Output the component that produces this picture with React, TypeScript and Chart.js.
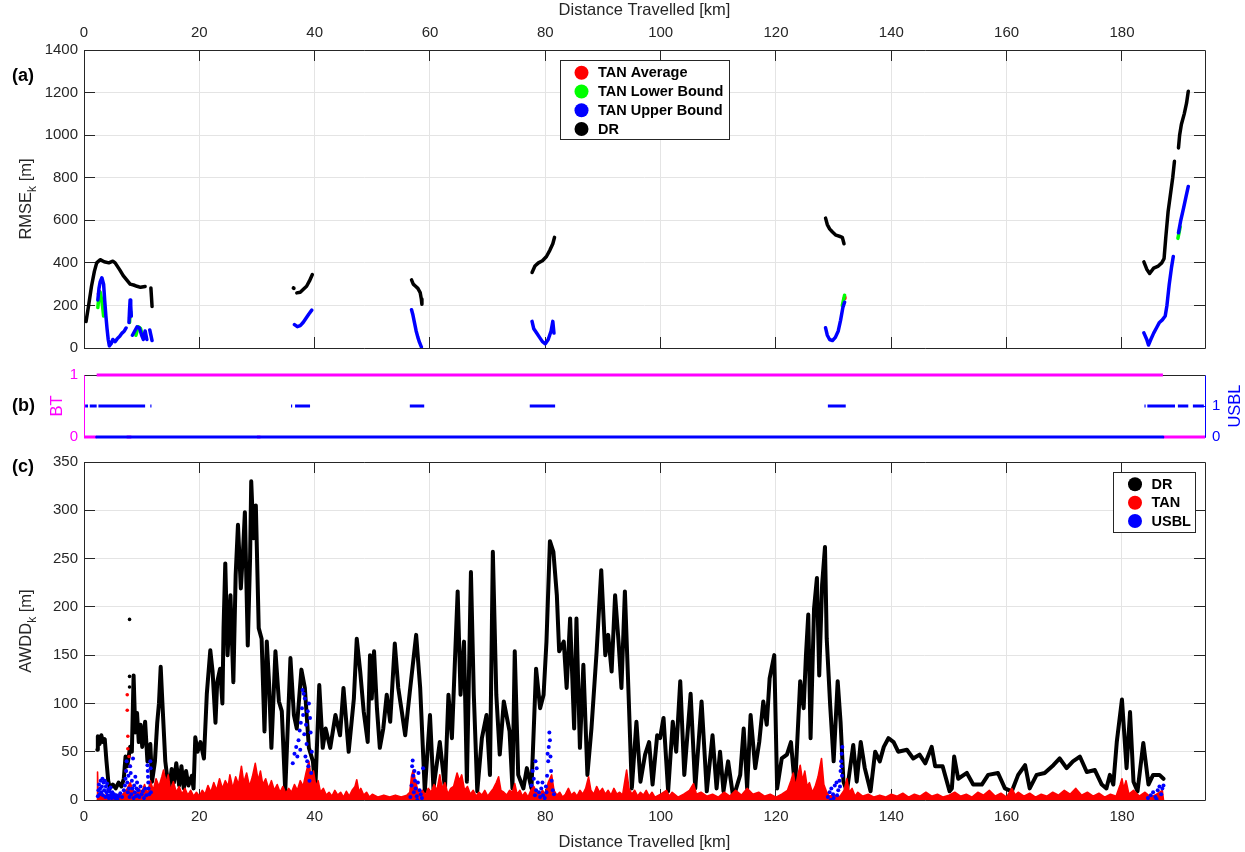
import React, { useEffect, useRef } from 'react';
import { Chart, registerables } from 'chart.js';
Chart.register(...registerables);

type Pt = [number, number] | null;

const FONT = '"Liberation Sans", Arial, Helvetica, sans-serif';
const INK = '#262626';
const GRID = '#e4e4e4';
const RED = '#ff0000';
const GREEN = '#00ff00';
const BLUE = '#0000ff';
const BLACK = '#000000';
const MAGENTA = '#ff00ff';
const W = 1245;
const H = 852;
const X_MIN = 0;
const X_MAX = 194.4;

// ---------- Panel (a): RMSE_k ----------
const dr_a: Pt[] = [
  [0.35, 124], [0.8, 200], [1.3, 290], [1.8, 360], [2.2, 400], [2.8, 415], [3.5, 405], [4.3, 400], [5.0, 408], [5.4, 400],
  [6.2, 367], [6.8, 340], [7.4, 320], [8.0, 300], [8.6, 296], [9.2, 290], [9.8, 285], [10.6, 289], null,
  [11.6, 282], [11.7, 240], [11.8, 195], null,
  [36.3, 282], [36.4, 280], null,
  [36.9, 259], [37.5, 262], [38.0, 275], [38.6, 290], [39.1, 315], [39.6, 345], null,
  [56.8, 320], [57.1, 300], [57.5, 290], [57.9, 280], [58.3, 260], [58.5, 230], [58.6, 205], null,
  [77.7, 355], [78.2, 385], [78.8, 400], [79.5, 410], [80.2, 430], [80.8, 460], [81.3, 490], [81.6, 520], null,
  [128.6, 610], [128.9, 580], [129.3, 560], [129.8, 545], [130.4, 530], [131.0, 525], [131.5, 520], [131.8, 490], null,
  [183.8, 405], [184.3, 370], [184.8, 350], [185.5, 375], [186.3, 385], [186.9, 400], [187.3, 420], [187.6, 520],
  [188.0, 640], [188.4, 720], [188.8, 800], [189.1, 877], null,
  [189.8, 940], [190.0, 1000], [190.3, 1050], [190.8, 1100], [191.2, 1150], [191.5, 1206],
];
const tanUpper_a: Pt[] = [
  [2.4, 226], [2.6, 280], [2.8, 310], [3.1, 330], [3.4, 300], [3.6, 220], [3.8, 150], [4.0, 90], [4.2, 40], [4.4, 10],
  [4.7, 20], [5.0, 40], [5.4, 30], [5.8, 45], [6.2, 55], [6.6, 70], [7.0, 80], [7.3, 94], null,
  [7.8, 120], [7.9, 180], [8.0, 226], [8.1, 200], [8.2, 150], null,
  [8.4, 60], [8.8, 80], [9.2, 100], [9.6, 95], [10.0, 60], [10.3, 40], [10.6, 80], [10.9, 40], null,
  [11.4, 85], [11.6, 60], [11.8, 35], null,
  [36.5, 110], [37.0, 100], [37.5, 105], [38.0, 120], [38.5, 140], [39.0, 160], [39.5, 178], null,
  [56.8, 180], [57.0, 160], [57.3, 120], [57.6, 80], [57.9, 50], [58.2, 25], [58.5, 5], null,
  [77.7, 125], [78.0, 90], [78.5, 70], [79.0, 50], [79.5, 30], [80.0, 20], [80.5, 40], [81.0, 80], [81.3, 125], [81.5, 70], null,
  [128.6, 95], [128.9, 60], [129.3, 40], [129.8, 35], [130.3, 50], [130.8, 80], [131.2, 130], [131.6, 190], [131.9, 215], null,
  [183.8, 71], [184.3, 40], [184.6, 14], [185.0, 40], [185.5, 70], [186.0, 95], [186.5, 120], [187.0, 132], [187.5, 150],
  [187.8, 200], [188.2, 300], [188.6, 380], [188.9, 430], null,
  [189.8, 541], [190.2, 600], [190.7, 660], [191.1, 710], [191.5, 759],
];
const tanLower_a: Pt[] = [
  [2.4, 190], [2.6, 250], [2.8, 262], [3.0, 235], [3.2, 200], [3.4, 150], null,
  [7.9, 120], [8.0, 170], [8.1, 150], null,
  [9.0, 60], [9.4, 100], [9.8, 92], [10.2, 55], null,
  [131.5, 200], [131.9, 248], null,
  [189.7, 515], [190.1, 570],
];
const tanAvg_a: Pt[] = [
  [2.5, 255], [2.7, 265], null,
  [7.9, 140], [8.05, 160], null,
  [131.8, 232], [131.95, 240],
];

// ---------- Panel (b): BT / USBL availability ----------
const bt_one: Pt[] = [[2.2, 1], [187.1, 1]];
const bt_zero: Pt[] = [[0, 0], [2.2, 0], null, [7.4, 0], [8.2, 0], null, [30.0, 0], [30.6, 0], null, [187.1, 0], [194.4, 0]];
const usbl_zero: Pt[] = [[2.2, 0], [187.1, 0]];
const usbl_one: Pt[] = [
  [0.2, 1], [0.7, 1], null, [1.0, 1], [2.2, 1], null, [2.5, 1], [10.6, 1], null, [11.5, 1], [11.7, 1], null,
  [35.9, 1], [36.1, 1], null, [36.6, 1], [39.2, 1], null, [56.5, 1], [59.0, 1], null, [77.3, 1], [81.7, 1], null,
  [129.0, 1], [132.1, 1], null, [183.9, 1], [184.1, 1], null, [184.4, 1], [189.2, 1], null, [189.7, 1], [191.5, 1], null,
  [192.3, 1], [194.2, 1],
];

// ---------- Panel (c): AWDD_k ----------
const dr_c: Pt[] = [
  [2.3, 52], [2.4, 66], [2.7, 58], [3.0, 67], [3.3, 60], [3.6, 63], [3.9, 40], [4.2, 20], [4.5, 12], [5.0, 16], [5.5, 12],
  [6.0, 18], [6.5, 14], [6.9, 22], [7.2, 45], [7.5, 35], [8.0, 55], [8.3, 50], [8.6, 129], [8.9, 70], [9.2, 90], [9.5, 60],
  [9.8, 78], [10.1, 55], [10.6, 81], [11.0, 40], [11.5, 58], [11.8, 19], [12.3, 40], [12.7, 80], [13.0, 100], [13.3, 138],
  [13.6, 100], [14.1, 40], [14.4, 25], [14.8, 12], [15.2, 32], [15.6, 18], [16.0, 38], [16.5, 15], [16.9, 35], [17.3, 12],
  [17.7, 30], [18.1, 15], [18.7, 25], [19.0, 12], [19.3, 65], [19.7, 50], [20.2, 60], [20.8, 43], [21.3, 110], [21.9, 155],
  [22.3, 133], [22.8, 80], [23.1, 122], [23.6, 136], [24.0, 100], [24.2, 178], [24.5, 245], [24.9, 150], [25.4, 212],
  [25.9, 122], [26.3, 233], [26.7, 285], [27.2, 219], [27.6, 260], [27.9, 298], [28.4, 160], [28.8, 250], [29.0, 330],
  [29.4, 271], [29.8, 305], [30.3, 178], [30.8, 167], [31.3, 71], [31.7, 164], [32.1, 120], [32.5, 54], [33.2, 154],
  [33.8, 102], [34.3, 92], [34.9, 9], [35.8, 147], [36.4, 88], [36.9, 74], [37.7, 135], [38.3, 116], [39.0, 54], [39.7, 40],
  [40.1, 9], [40.8, 119], [41.4, 54], [41.9, 74], [42.7, 54], [43.6, 88], [44.4, 67], [45.0, 116], [45.9, 50], [46.8, 105],
  [47.3, 167], [47.9, 133], [48.5, 92], [49.2, 60], [49.6, 150], [49.9, 105], [50.3, 154], [50.8, 95], [51.3, 54],
  [51.9, 74], [52.5, 109], [53.1, 81], [53.9, 162], [54.5, 116], [55.1, 92], [55.7, 67], [56.5, 112], [57.6, 171],
  [58.3, 116], [59.1, 9], [60.0, 88], [60.6, 12], [61.7, 60], [62.6, 12], [63.2, 109], [63.8, 64], [64.8, 216], [65.3, 109],
  [65.9, 164], [66.4, 19], [67.1, 236], [67.6, 109], [68.2, 9], [69.0, 64], [69.8, 88], [70.4, 26], [70.9, 257], [71.5, 109],
  [72.1, 47], [72.8, 102], [73.8, 71], [74.3, 12], [74.7, 154], [75.3, 26], [76.2, 12], [76.8, 33], [77.6, 12], [78.4, 136],
  [79.1, 95], [79.7, 109], [80.2, 164], [80.8, 268], [81.4, 257], [82.0, 212], [82.4, 154], [83.2, 164], [83.7, 116],
  [84.3, 188], [85.0, 74], [85.4, 188], [86.0, 54], [86.6, 140], [87.3, 26], [88.0, 74], [88.9, 154], [89.7, 238],
  [90.4, 150], [90.9, 171], [91.5, 133], [92.1, 212], [92.7, 164], [93.2, 116], [93.8, 216], [94.4, 116], [95.0, 12],
  [95.8, 81], [96.5, 19], [97.3, 47], [98.0, 60], [98.6, 16], [99.4, 67], [99.9, 64], [100.5, 85], [101.3, 9], [102.1, 81],
  [102.7, 50], [103.4, 123], [104.1, 26], [105.2, 110], [106.0, 12], [107.1, 102], [108.0, 9], [109.0, 67], [109.7, 12],
  [110.3, 50], [110.9, 9], [111.7, 40], [112.6, 2], [113.8, 26], [114.4, 74], [115.0, 12], [115.6, 88], [116.4, 33],
  [117.1, 60], [117.8, 102], [118.4, 78], [118.9, 126], [119.7, 150], [120.2, 12], [121.0, 43], [121.9, 47], [122.6, 60],
  [123.3, 12], [124.2, 123], [124.8, 95], [125.2, 150], [125.6, 192], [126.0, 64], [126.6, 198], [127.1, 230], [127.5, 129],
  [128.0, 223], [128.5, 262], [128.8, 167], [129.4, 98], [130.0, 40], [130.7, 123], [131.2, 81], [131.7, 19], [132.3, 9],
  [133.4, 57], [134.0, 19], [134.7, 60], [135.4, 33], [136.4, 9], [137.2, 50], [138.0, 40], [138.7, 55], [139.5, 64],
  [140.4, 60], [141.2, 50], [142.7, 52], [143.8, 43], [144.9, 47], [145.9, 38], [147.0, 55], [147.6, 35], [148.9, 35],
  [150.1, 9], [150.5, 12], [150.9, 45], [151.6, 22], [153.1, 28], [154.2, 16], [155.7, 16], [156.8, 26], [158.5, 28],
  [159.7, 12], [160.9, 9], [162.0, 26], [163.2, 36], [164.0, 12], [165.2, 26], [166.6, 28], [168.1, 36], [169.2, 43],
  [170.4, 33], [171.5, 40], [172.7, 45], [173.9, 29], [175.3, 31], [176.5, 16], [177.3, 12], [177.9, 26], [178.5, 16],
  [179.1, 60], [180.0, 104], [180.8, 33], [181.4, 91], [182.0, 19], [182.7, 9], [183.7, 59], [184.6, 16], [185.4, 26],
  [186.5, 26], [187.2, 22],
];
const drOut_c: Pt[] = [[7.9, 187], [7.9, 128], [7.9, 117]];
const tan_c: Pt[] = [
  [2.3, 0], [2.35, 29], [2.45, 5], [3, 8], [3.5, 4], [4, 6], [4.5, 3], [5, 5], [5.5, 3], [6, 6], [6.5, 4], [7, 8], [7.5, 12],
  [8, 18], [8.5, 10], [9, 6], [9.5, 12], [10, 8], [10.5, 16], [11, 6], [11.5, 20], [12, 10], [12.5, 22], [13, 14], [13.5, 24],
  [13.8, 31], [14.2, 18], [14.6, 26], [15, 10], [15.5, 19], [16, 8], [16.5, 14], [17, 6], [17.5, 12], [18, 5], [18.5, 10],
  [19, 4], [19.5, 8], [20, 4], [20.5, 10], [21, 6], [21.5, 15], [22, 8], [22.5, 18], [23, 10], [23.5, 22], [24, 12],
  [24.5, 20], [25, 14], [25.3, 26], [25.8, 12], [26.3, 24], [26.8, 16], [27.3, 35], [27.7, 18], [28.2, 28], [28.7, 14],
  [29.2, 24], [29.7, 38], [30.2, 20], [30.6, 30], [31, 16], [31.5, 22], [32, 12], [32.5, 20], [33, 10], [33.5, 16], [34, 8],
  [34.5, 14], [35, 7], [35.5, 12], [36, 8], [36.5, 16], [37, 10], [37.5, 20], [38, 14], [38.5, 28], [39, 40], [39.4, 22],
  [39.8, 30], [40.2, 14], [40.6, 20], [41, 8], [41.5, 12], [42, 5], [42.5, 8], [43, 4], [43.5, 10], [44, 5], [44.5, 8],
  [45, 3], [45.5, 9], [46, 4], [46.5, 10], [47, 14], [47.3, 21], [47.7, 8], [48, 12], [48.5, 5], [49, 8], [49.5, 3], [50, 6],
  [51, 3], [52, 5], [53, 3], [54, 5], [55, 3], [56, 5], [56.5, 8], [56.8, 25], [57.1, 31], [57.4, 22], [57.8, 12], [58.2, 6],
  [58.7, 10], [59.2, 5], [59.7, 12], [60.2, 8], [60.7, 16], [61.2, 10], [61.7, 26], [62.1, 12], [62.6, 18], [63.1, 6],
  [63.6, 12], [64.1, 14], [64.7, 28], [65.1, 20], [65.5, 26], [66, 10], [66.5, 14], [67, 6], [67.5, 10], [68, 4], [68.5, 8],
  [69, 5], [69.5, 10], [70, 4], [70.5, 8], [71, 12], [71.5, 18], [71.9, 24], [72.3, 10], [72.8, 8], [73.3, 5], [73.8, 10],
  [74.3, 8], [74.7, 17], [75.1, 6], [75.6, 10], [76, 4], [76.5, 8], [77, 3], [77.5, 10], [78, 14], [78.5, 8], [79, 5],
  [79.5, 10], [80, 6], [80.5, 18], [81.1, 26], [81.5, 10], [82, 5], [82.5, 8], [83, 3], [83.5, 6], [84, 12], [84.5, 5],
  [85, 8], [85.5, 4], [86, 10], [86.5, 6], [87, 12], [87.5, 24], [87.9, 10], [88.4, 6], [88.9, 14], [89.4, 8], [89.9, 12],
  [90.4, 6], [90.9, 10], [91.4, 5], [91.9, 12], [92.4, 6], [92.9, 8], [93.4, 5], [93.8, 20], [94.1, 31], [94.5, 12], [95, 6],
  [95.5, 10], [96, 4], [96.5, 8], [97, 5], [97.5, 10], [98, 4], [98.5, 8], [99, 3], [100, 6], [101, 10], [101.5, 4], [102, 8],
  [103, 3], [104, 6], [105, 10], [105.7, 17], [106.2, 6], [107, 8], [108, 4], [109, 6], [110, 3], [111, 8], [112, 4],
  [113, 10], [114, 5], [115, 12], [116, 6], [117, 8], [118, 4], [119, 6], [120, 3], [121, 6], [122, 10], [122.6, 20],
  [123, 28], [123.4, 14], [123.8, 26], [124.2, 36], [124.6, 20], [125, 30], [125.4, 14], [125.8, 18], [126.3, 8], [126.8, 14],
  [127.3, 24], [127.9, 43], [128.3, 16], [128.8, 8], [129.2, 4], [130, 5], [131, 3], [131.8, 10], [132.3, 22], [132.7, 8],
  [133.2, 12], [133.7, 4], [134.2, 8], [135, 4], [136, 6], [137, 3], [138, 5], [139, 3], [140, 6], [141, 4], [142, 7],
  [143, 3], [144, 6], [145, 4], [146, 8], [147, 4], [148, 6], [149, 3], [150, 5], [151, 8], [152, 4], [153, 6], [154, 3],
  [155, 8], [156, 5], [157, 10], [158, 4], [159, 7], [160, 3], [160.9, 12], [161.5, 5], [162, 8], [163, 4], [164, 7], [165, 3],
  [166, 6], [167, 4], [168, 8], [169, 5], [170, 10], [171, 6], [172, 12], [173, 5], [174, 8], [175, 4], [176, 7], [177, 3],
  [178, 6], [179, 4], [179.7, 16], [180, 22], [180.3, 12], [180.7, 20], [181.2, 6], [182, 10], [183, 4], [184, 8], [185, 3],
  [186, 6], [187, 10], [187.2, 0],
];
const tanOut_c: Pt[] = [[7.5, 109], [7.5, 93], [7.6, 66], [7.6, 53], [7.8, 45], [8.0, 35], [7.3, 30]];
const usbl_c: Pt[] = [
  [2.4, 4], [2.5, 10], [2.6, 16], [2.7, 6], [2.8, 12], [2.9, 20], [3.0, 8], [3.1, 14], [3.2, 22], [3.3, 5], [3.4, 18], [3.5, 10],
  [3.6, 20], [3.7, 3], [3.8, 14], [3.9, 8], [4.0, 17], [4.1, 5], [4.2, 11], [4.3, 2], [4.4, 9], [4.5, 4], [4.6, 13], [4.7, 6],
  [4.8, 2], [4.9, 8], [5.0, 3], [5.2, 6], [5.4, 2], [5.6, 5], [5.8, 1], [6.0, 4], [6.3, 7], [6.6, 3], [6.9, 10], [7.1, 15],
  [7.2, 22], [7.3, 30], [7.4, 40], [7.5, 18], [7.6, 8], [7.7, 25], [7.8, 12], [7.9, 3], [8.0, 35], [8.1, 28], [8.2, 6],
  [8.3, 20], [8.4, 12], [8.5, 43], [8.6, 2], [8.7, 15], [8.8, 8], [8.9, 24], [9.0, 4], [9.1, 12], [9.2, 18], [9.3, 5],
  [9.4, 10], [9.6, 3], [9.8, 14], [10.0, 6], [10.2, 9], [10.4, 2], [10.6, 12], [10.8, 5], [11.0, 36], [11.05, 30], [11.1, 24],
  [11.15, 18], [11.2, 12], [11.3, 6], [11.5, 40], [11.55, 33], [11.6, 8],
  [36.2, 38], [36.5, 48], [36.8, 55], [37.0, 45], [37.2, 62], [37.4, 72], [37.5, 52], [37.6, 80], [37.8, 95], [37.9, 114],
  [38.0, 88], [38.1, 110], [38.2, 68], [38.3, 105], [38.4, 45], [38.5, 78], [38.6, 58], [38.7, 40], [38.8, 92], [38.9, 35],
  [39.0, 100], [39.1, 20], [39.2, 85], [39.3, 70], [39.4, 28], [39.5, 50],
  [56.6, 3], [56.8, 15], [56.9, 35], [57.0, 41], [57.1, 25], [57.2, 8], [57.3, 30], [57.4, 20], [57.5, 12], [57.7, 4], [57.8, 0],
  [57.9, 18], [58.0, 28], [58.2, 10], [58.4, 6], [58.6, 2], [58.8, 33],
  [77.6, 15], [77.8, 30], [78.0, 22], [78.2, 5], [78.3, 40], [78.4, 10], [78.5, 33], [78.7, 18], [78.9, 8], [79.1, 3], [79.3, 12],
  [79.5, 18], [79.6, 5], [79.9, 2], [80.1, 14], [80.2, 8], [80.3, 25], [80.4, 48], [80.5, 40], [80.6, 55], [80.7, 70], [80.8, 62],
  [80.9, 45], [81.0, 30], [81.1, 20], [81.3, 10], [81.5, 6],
  [129.0, 3], [129.3, 8], [129.5, 0], [129.6, 12], [129.9, 6], [130.0, 2], [130.2, 15], [130.5, 18], [130.6, 5], [130.8, 10],
  [131.0, 20], [131.1, 14], [131.2, 30], [131.3, 40], [131.35, 35], [131.4, 48], [131.45, 25], [131.5, 55],
  [184.5, 2], [185.0, 5], [185.4, 8], [185.8, 3], [186.0, 1], [186.2, 10], [186.5, 14], [186.8, 6], [187.0, 12], [187.2, 15],
];

// ---------- helpers ----------
function toXY(arr: Pt[]) {
  const out: { x: number; y: number | null }[] = [];
  let lastX = 0;
  for (const p of arr) {
    if (p) {
      out.push({ x: p[0], y: p[1] });
      lastX = p[0];
    } else out.push({ x: lastX, y: null });
  }
  return out;
}

const lineDs = (label: string, data: Pt[], color: string, width: number, order: number, extra: any = {}) => ({
  type: 'line',
  label,
  data: toXY(data),
  borderColor: color,
  backgroundColor: color,
  borderWidth: width,
  pointRadius: 0,
  tension: 0,
  spanGaps: false,
  borderJoinStyle: 'round',
  borderCapStyle: 'round',
  order,
  ...extra,
});

const pointDs = (label: string, data: Pt[], color: string, r: number, order: number) => ({
  type: 'scatter',
  label,
  data: toXY(data),
  borderColor: color,
  backgroundColor: color,
  pointRadius: r,
  pointBorderWidth: 0,
  showLine: false,
  order,
});

const numCb = (v: any) => String(v);

const xScale = (position: string, showLabels: boolean, showTitle: boolean, height: number, display = true) => ({
  type: 'linear',
  position,
  display,
  min: X_MIN,
  max: X_MAX,
  grid: { color: GRID, drawTicks: false, lineWidth: 1 },
  border: { display: false },
  ticks: {
    stepSize: 20,
    includeBounds: false,
    autoSkip: false,
    maxRotation: 0,
    display: showLabels,
    color: INK,
    font: { family: FONT, size: 15 },
    padding: 8,
    callback: numCb,
  },
  title: {
    display: showTitle,
    text: 'Distance Travelled [km]',
    color: INK,
    font: { family: FONT, size: 16.5 },
    padding: { top: 1, bottom: 0 },
  },
  afterFit: (s: any) => {
    s.height = height;
  },
});

const yScale = (position: string, min: number, max: number, step: number, width: number, color: string, grid: boolean, cb: any = numCb) => ({
  type: 'linear',
  position,
  min,
  max,
  grid: { display: grid, color: GRID, drawTicks: false, lineWidth: 1 },
  border: { display: false },
  ticks: {
    stepSize: step,
    autoSkip: false,
    color,
    font: { family: FONT, size: 15 },
    padding: position === 'left' ? 6 : 7,
    callback: cb,
  },
  afterFit: (s: any) => {
    s.width = width;
  },
});

type Side = 'top' | 'bottom' | 'left' | 'right';
interface FrameCfg {
  edges: { side: Side; color: string }[];
  ticks: { scale: string; side: Side; color: string }[];
  legend?: { box: [number, number, number, number]; markerX: number; textX: number; rows: number[]; items: [string, string][] };
  texts?: (ctx: CanvasRenderingContext2D) => void;
}

function drawVTitle(ctx: CanvasRenderingContext2D, cx: number, cy: number, main: string, sub: string, rest: string, size: number, color: string) {
  ctx.save();
  ctx.translate(cx, cy);
  ctx.rotate(-Math.PI / 2);
  ctx.fillStyle = color;
  ctx.textBaseline = 'alphabetic';
  ctx.textAlign = 'left';
  const big = `${size}px ${FONT}`;
  const small = `${Math.round(size * 0.72)}px ${FONT}`;
  ctx.font = big;
  const w1 = ctx.measureText(main).width;
  const w3 = ctx.measureText(rest).width;
  ctx.font = small;
  const w2 = sub ? ctx.measureText(sub).width : 0;
  let x = -(w1 + w2 + w3) / 2;
  const base = size * 0.36;
  ctx.font = big;
  ctx.fillText(main, x, base);
  x += w1;
  if (sub) {
    ctx.font = small;
    ctx.fillText(sub, x, base + size * 0.28);
    x += w2;
  }
  ctx.font = big;
  ctx.fillText(rest, x, base);
  ctx.restore();
}

function drawPanelLabel(ctx: CanvasRenderingContext2D, text: string, x: number, y: number) {
  ctx.save();
  ctx.font = `bold 18px ${FONT}`;
  ctx.fillStyle = '#000';
  ctx.textAlign = 'left';
  ctx.textBaseline = 'middle';
  ctx.fillText(text, x, y);
  ctx.restore();
}

function makeFrame(cfg: FrameCfg) {
  return {
    id: 'matlabFrame',
    beforeDatasetsDraw(chart: any) {
      const { ctx, chartArea: a } = chart;
      const TL = 11;
      ctx.save();
      ctx.lineWidth = 1;
      for (const t of cfg.ticks) {
        const sc = chart.scales[t.scale];
        ctx.strokeStyle = t.color;
        ctx.beginPath();
        for (const tk of sc.ticks) {
          const p = Math.floor(sc.getPixelForValue(tk.value)) + 0.5;
          if (t.side === 'top') {
            ctx.moveTo(p, a.top);
            ctx.lineTo(p, a.top + TL);
          } else if (t.side === 'bottom') {
            ctx.moveTo(p, a.bottom);
            ctx.lineTo(p, a.bottom - TL);
          } else if (t.side === 'left') {
            ctx.moveTo(a.left, p);
            ctx.lineTo(a.left + TL, p);
          } else {
            ctx.moveTo(a.right, p);
            ctx.lineTo(a.right - TL, p);
          }
        }
        ctx.stroke();
      }
      const L = Math.floor(a.left) + 0.5;
      const R = Math.floor(a.right) + 0.5;
      const T = Math.floor(a.top) + 0.5;
      const B = Math.floor(a.bottom) + 0.5;
      for (const e of cfg.edges) {
        ctx.strokeStyle = e.color;
        ctx.beginPath();
        if (e.side === 'top') {
          ctx.moveTo(L, T);
          ctx.lineTo(R, T);
        } else if (e.side === 'bottom') {
          ctx.moveTo(L, B);
          ctx.lineTo(R, B);
        } else if (e.side === 'left') {
          ctx.moveTo(L, T);
          ctx.lineTo(L, B);
        } else {
          ctx.moveTo(R, T);
          ctx.lineTo(R, B);
        }
        ctx.stroke();
      }
      ctx.restore();
    },
    afterDraw(chart: any) {
      const ctx: CanvasRenderingContext2D = chart.ctx;
      if (cfg.legend) {
        const lg = cfg.legend;
        const [x0, y0, x1, y1] = lg.box;
        ctx.save();
        ctx.fillStyle = '#ffffff';
        ctx.fillRect(x0, y0, x1 - x0, y1 - y0);
        ctx.strokeStyle = INK;
        ctx.lineWidth = 1;
        ctx.strokeRect(Math.floor(x0) + 0.5, Math.floor(y0) + 0.5, Math.round(x1 - x0), Math.round(y1 - y0));
        ctx.font = `bold 14.5px ${FONT}`;
        ctx.textAlign = 'left';
        ctx.textBaseline = 'middle';
        lg.items.forEach(([label, color], i) => {
          const y = lg.rows[i];
          ctx.fillStyle = color;
          ctx.beginPath();
          ctx.arc(lg.markerX, y, 7, 0, Math.PI * 2);
          ctx.fill();
          ctx.fillStyle = '#000';
          ctx.fillText(label, lg.textX, y + 0.5);
        });
        ctx.restore();
      }
      if (cfg.texts) cfg.texts(ctx);
    },
  };
}

const baseOptions = (padding: any, scales: any) => ({
  responsive: false,
  maintainAspectRatio: false,
  animation: false,
  events: [],
  layout: { padding },
  plugins: { legend: { display: false }, tooltip: { enabled: false } },
  scales,
});

function buildA(canvas: HTMLCanvasElement) {
  return new Chart(canvas, {
    type: 'line',
    data: {
      datasets: [
        lineDs('TAN Upper Bound', tanUpper_a, BLUE, 3.5, 0),
        lineDs('TAN Lower Bound', tanLower_a, GREEN, 3.5, 1),
        lineDs('TAN Average', tanAvg_a, RED, 3.5, 2),
        lineDs('DR', dr_a, BLACK, 3.5, 3),
      ] as any,
    },
    options: baseOptions(
      { top: 0, left: 0, right: 40, bottom: 504 },
      {
        x: xScale('top', true, true, 50),
        y: yScale('left', 0, 1400, 200, 84, INK, true),
      }
    ) as any,
    plugins: [
      makeFrame({
        edges: [
          { side: 'top', color: INK },
          { side: 'bottom', color: INK },
          { side: 'left', color: INK },
          { side: 'right', color: INK },
        ],
        ticks: [
          { scale: 'x', side: 'top', color: INK },
          { scale: 'x', side: 'bottom', color: INK },
          { scale: 'y', side: 'left', color: INK },
          { scale: 'y', side: 'right', color: INK },
        ],
        legend: {
          box: [560, 60, 729, 139],
          markerX: 581.5,
          textX: 598,
          rows: [72.7, 91.5, 110.2, 129],
          items: [
            ['TAN Average', RED],
            ['TAN Lower Bound', GREEN],
            ['TAN Upper Bound', BLUE],
            ['DR', BLACK],
          ],
        },
        texts: (ctx) => {
          drawPanelLabel(ctx, '(a)', 12, 76);
          drawVTitle(ctx, 25, 199, 'RMSE', 'k', ' [m]', 16.5, INK);
        },
      }) as any,
    ],
  });
}

function buildB(canvas: HTMLCanvasElement) {
  return new Chart(canvas, {
    type: 'line',
    data: {
      datasets: [
        lineDs('USBL0', usbl_zero, BLUE, 3, 0, { yAxisID: 'y2', clip: false }),
        lineDs('USBL1', usbl_one, BLUE, 3, 1, { yAxisID: 'y2', clip: false, borderCapStyle: 'butt' }),
        lineDs('BT1', bt_one, MAGENTA, 3, 2, { yAxisID: 'y', clip: false, borderCapStyle: 'butt' }),
        lineDs('BT0', bt_zero, MAGENTA, 3, 3, { yAxisID: 'y', clip: false, borderCapStyle: 'butt' }),
      ] as any,
    },
    options: baseOptions(
      { top: 375, left: 0, right: 0, bottom: 415 },
      {
        x: xScale('bottom', false, false, 0, false),
        y: yScale('left', 0, 1, 1, 84, MAGENTA, false),
        y2: yScale('right', 0, 2, 1, 40, BLUE, false, (v: any) => (v === 2 ? '' : String(v))),
      }
    ) as any,
    plugins: [
      makeFrame({
        edges: [
          { side: 'top', color: INK },
          { side: 'bottom', color: INK },
          { side: 'left', color: MAGENTA },
          { side: 'right', color: BLUE },
        ],
        ticks: [
          { scale: 'y', side: 'left', color: MAGENTA },
          { scale: 'y2', side: 'right', color: BLUE },
        ],
        texts: (ctx) => {
          drawPanelLabel(ctx, '(b)', 12, 406);
          drawVTitle(ctx, 56.5, 406, 'BT', '', '', 16.5, MAGENTA);
          drawVTitle(ctx, 1234, 406, 'USBL', '', '', 16.5, BLUE);
        },
      }) as any,
    ],
  });
}

function buildC(canvas: HTMLCanvasElement) {
  return new Chart(canvas, {
    type: 'line',
    data: {
      datasets: [
        pointDs('USBL', usbl_c, BLUE, 2, 0),
        pointDs('TAN outliers', tanOut_c, RED, 1.8, 1),
        lineDs('TAN', tan_c, RED, 1.6, 2, { fill: 'origin', backgroundColor: RED }),
        pointDs('DR outliers', drOut_c, BLACK, 1.8, 3),
        lineDs('DR', dr_c, BLACK, 4, 4),
      ] as any,
    },
    options: baseOptions(
      { top: 462, left: 0, right: 40, bottom: 0 },
      {
        x: xScale('bottom', true, true, 52),
        y: yScale('left', 0, 350, 50, 84, INK, true),
      }
    ) as any,
    plugins: [
      makeFrame({
        edges: [
          { side: 'top', color: INK },
          { side: 'bottom', color: INK },
          { side: 'left', color: INK },
          { side: 'right', color: INK },
        ],
        ticks: [
          { scale: 'x', side: 'top', color: INK },
          { scale: 'x', side: 'bottom', color: INK },
          { scale: 'y', side: 'left', color: INK },
          { scale: 'y', side: 'right', color: INK },
        ],
        legend: {
          box: [1113, 472.5, 1195, 532.5],
          markerX: 1135,
          textX: 1151.5,
          rows: [484.3, 502.7, 521],
          items: [
            ['DR', BLACK],
            ['TAN', RED],
            ['USBL', BLUE],
          ],
        },
        texts: (ctx) => {
          drawPanelLabel(ctx, '(c)', 12, 467);
          drawVTitle(ctx, 25, 631, 'AWDD', 'k', ' [m]', 16.5, INK);
        },
      }) as any,
    ],
  });
}

export default function App() {
  const ra = useRef<HTMLCanvasElement>(null);
  const rb = useRef<HTMLCanvasElement>(null);
  const rc = useRef<HTMLCanvasElement>(null);

  useEffect(() => {
    const charts = [buildA(ra.current!), buildB(rb.current!), buildC(rc.current!)];
    return () => charts.forEach((c) => c.destroy());
  }, []);

  const cs: React.CSSProperties = { position: 'absolute', left: 0, top: 0, width: W, height: H };
  return (
    <div style={{ position: 'fixed', left: 0, top: 0, width: W, height: H, background: '#ffffff', overflow: 'hidden' }}>
      <canvas ref={ra} width={W} height={H} style={cs} />
      <canvas ref={rb} width={W} height={H} style={cs} />
      <canvas ref={rc} width={W} height={H} style={cs} />
    </div>
  );
}
